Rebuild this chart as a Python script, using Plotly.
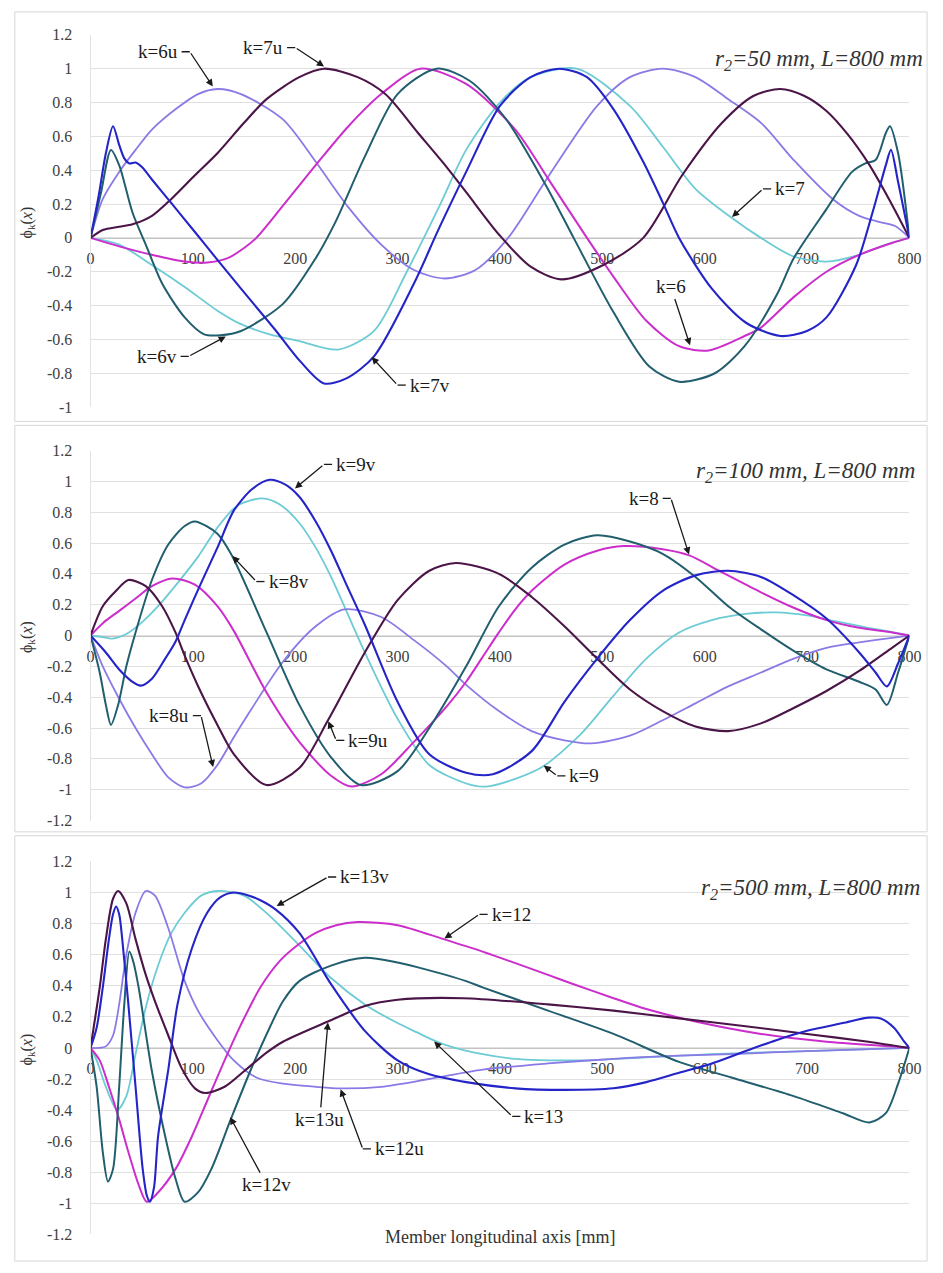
import plotly.graph_objects as go

# ---------------------------------------------------------------
# Mode shapes phi_k(x) along an 800 mm member, three radii r2
# ---------------------------------------------------------------

X_TICKS = [0, 100, 200, 300, 400, 500, 600, 700, 800]
Y1_TICKS = [-1.0, -0.8, -0.6, -0.4, -0.2, 0.0, 0.2, 0.4, 0.6, 0.8, 1.0, 1.2]
Y23_TICKS = [-1.2, -1.0, -0.8, -0.6, -0.4, -0.2, 0.0, 0.2, 0.4, 0.6, 0.8, 1.0, 1.2]

# ---- panel 1 : r2 = 50 mm --------------------------------------
P1_X6U = [0, 12, 28, 44, 60, 83, 105, 124, 147, 188, 220, 252, 284, 316, 346, 376, 408, 447, 495, 527, 559, 591, 623, 655, 687, 725, 751, 770, 786, 800]
P1_Y6U = [0, 0.23, 0.39, 0.52, 0.64, 0.76, 0.85, 0.88, 0.85, 0.70, 0.45, 0.18, -0.04, -0.19, -0.24, -0.19, 0.0, 0.36, 0.78, 0.95, 1.0, 0.95, 0.82, 0.68, 0.46, 0.23, 0.13, 0.095, 0.07, 0]

P1_X7U = [0, 12, 28, 41, 60, 79, 102, 124, 150, 172, 204, 228, 261, 288, 320, 345, 367, 399, 430, 460, 501, 540, 578, 617, 648, 674, 697, 719, 740, 760, 780, 800]
P1_Y7U = [0, 0.047, 0.066, 0.08, 0.13, 0.23, 0.37, 0.50, 0.68, 0.82, 0.95, 1.0, 0.95, 0.85, 0.62, 0.44, 0.27, 0.02, -0.17, -0.245, -0.16, 0.0, 0.37, 0.68, 0.84, 0.88, 0.84, 0.75, 0.61, 0.44, 0.23, 0]

P1_X7V = [0, 8, 15, 22, 28, 33, 38, 44, 50, 60, 79, 102, 124, 147, 180, 205, 228, 250, 277, 316, 340, 367, 400, 430, 458, 485, 511, 540, 559, 575, 607, 640, 674, 700, 719, 748, 764, 777, 782, 789, 800]
P1_Y7V = [0, 0.25, 0.50, 0.66, 0.55, 0.47, 0.44, 0.445, 0.42, 0.345, 0.205, 0.035, -0.13, -0.30, -0.54, -0.73, -0.86, -0.83, -0.70, -0.27, 0.05, 0.39, 0.78, 0.95, 1.0, 0.95, 0.76, 0.45, 0.21, 0.0, -0.30, -0.50, -0.58, -0.55, -0.47, -0.16, 0.15, 0.43, 0.52, 0.33, 0]

P1_X6V = [0, 10, 20, 28, 41, 54, 70, 92, 111, 127, 147, 188, 220, 239, 268, 300, 338, 370, 405, 444, 472, 511, 546, 575, 610, 639, 671, 687, 719, 744, 757, 767, 777, 781, 789, 800]
P1_Y6V = [0, 0.26, 0.52, 0.43, 0.15, -0.04, -0.27, -0.47, -0.57, -0.575, -0.55, -0.39, -0.12, 0.09, 0.48, 0.85, 1.0, 0.93, 0.71, 0.32, 0.0, -0.44, -0.76, -0.85, -0.80, -0.64, -0.33, -0.12, 0.17, 0.39, 0.44, 0.46, 0.62, 0.66, 0.50, 0]

P1_X6 = [0, 28, 60, 92, 114, 134, 150, 162, 188, 220, 252, 284, 322, 367, 415, 447, 485, 511, 543, 575, 604, 639, 655, 687, 719, 751, 783, 800]
P1_Y6 = [0, -0.05, -0.10, -0.14, -0.146, -0.12, -0.06, 0.0, 0.19, 0.43, 0.66, 0.85, 1.0, 0.91, 0.64, 0.35, 0.0, -0.23, -0.49, -0.64, -0.665, -0.58, -0.53, -0.35, -0.20, -0.10, -0.03, 0]

P1_X7 = [0, 28, 60, 92, 124, 147, 175, 204, 242, 277, 309, 341, 367, 400, 430, 475, 527, 559, 591, 626, 655, 687, 719, 751, 777, 800]
P1_Y7 = [0, -0.04, -0.16, -0.29, -0.43, -0.51, -0.57, -0.61, -0.66, -0.55, -0.20, 0.19, 0.52, 0.80, 0.95, 1.0, 0.78, 0.54, 0.29, 0.12, 0.0, -0.11, -0.14, -0.10, -0.04, 0]

# ---- panel 2 : r2 = 100 mm -------------------------------------
P2_X9V = [0, 15, 28, 41, 49, 60, 73, 83, 92, 108, 124, 140, 158, 175, 190, 204, 220, 235, 250, 268, 300, 331, 367, 393, 431, 463, 495, 527, 559, 591, 623, 655, 687, 719, 751, 767, 778, 789, 800]
P2_Y9V = [0, -0.11, -0.22, -0.30, -0.325, -0.28, -0.15, -0.04, 0.10, 0.34, 0.57, 0.81, 0.95, 1.01, 0.98, 0.90, 0.74, 0.55, 0.33, 0.07, -0.43, -0.77, -0.89, -0.90, -0.75, -0.43, -0.15, 0.10, 0.29, 0.39, 0.42, 0.38, 0.26, 0.11, -0.11, -0.24, -0.33, -0.18, 0]

P2_X8V = [0, 9, 15, 20, 27, 35, 44, 60, 76, 92, 102, 124, 138, 172, 204, 235, 264, 300, 331, 367, 399, 431, 463, 495, 527, 559, 591, 623, 655, 687, 719, 751, 767, 778, 789, 800]
P2_Y8V = [0, -0.24, -0.45, -0.58, -0.45, -0.20, 0.02, 0.36, 0.59, 0.71, 0.74, 0.66, 0.52, 0.02, -0.45, -0.79, -0.97, -0.88, -0.60, -0.20, 0.19, 0.44, 0.59, 0.65, 0.61, 0.53, 0.38, 0.19, 0.04, -0.10, -0.22, -0.30, -0.35, -0.45, -0.24, 0]

P2_X9 = [0, 12, 21, 35, 51, 66, 85, 105, 124, 143, 168, 185, 204, 220, 235, 268, 300, 331, 367, 386, 415, 442, 479, 511, 543, 575, 607, 640, 670, 700, 730, 760, 785, 800]
P2_Y9 = [0, -0.01, -0.02, 0.01, 0.09, 0.19, 0.34, 0.51, 0.70, 0.84, 0.89, 0.85, 0.73, 0.57, 0.38, -0.11, -0.54, -0.84, -0.96, -0.98, -0.93, -0.85, -0.64, -0.39, -0.15, 0.02, 0.10, 0.14, 0.15, 0.13, 0.09, 0.05, 0.02, 0]

P2_X8 = [0, 12, 28, 44, 60, 80, 102, 124, 140, 172, 204, 235, 255, 284, 316, 348, 367, 383, 399, 415, 431, 463, 495, 521, 559, 585, 614, 655, 687, 719, 751, 783, 800]
P2_Y8 = [0, 0.08, 0.16, 0.24, 0.32, 0.37, 0.33, 0.19, 0.03, -0.37, -0.69, -0.91, -0.98, -0.90, -0.69, -0.46, -0.30, -0.14, 0.02, 0.17, 0.29, 0.46, 0.55, 0.58, 0.56, 0.52, 0.42, 0.28, 0.18, 0.10, 0.05, 0.02, 0]

P2_X9U = [0, 12, 25, 37, 54, 70, 83, 92, 108, 124, 140, 172, 204, 232, 268, 300, 331, 357, 399, 431, 463, 495, 527, 559, 591, 623, 655, 687, 719, 751, 783, 800]
P2_Y9U = [0, 0.19, 0.29, 0.36, 0.32, 0.19, 0.02, -0.13, -0.37, -0.58, -0.77, -0.97, -0.86, -0.55, -0.11, 0.23, 0.42, 0.47, 0.40, 0.25, 0.06, -0.15, -0.35, -0.49, -0.59, -0.62, -0.57, -0.47, -0.36, -0.23, -0.08, 0]

P2_X8U = [0, 12, 28, 44, 60, 76, 92, 108, 124, 140, 156, 188, 220, 248, 284, 316, 348, 367, 399, 431, 463, 489, 527, 559, 591, 623, 655, 687, 719, 751, 783, 800]
P2_Y8U = [0, -0.20, -0.41, -0.60, -0.77, -0.92, -0.985, -0.96, -0.84, -0.66, -0.49, -0.17, 0.06, 0.17, 0.12, -0.03, -0.20, -0.32, -0.49, -0.62, -0.68, -0.70, -0.65, -0.55, -0.44, -0.33, -0.24, -0.15, -0.08, -0.045, -0.015, 0]

# ---- panel 3 : r2 = 500 mm -------------------------------------
P3_X13V = [0, 6, 12, 18, 22, 25, 28, 31, 37, 44, 51, 55, 58, 62, 66, 76, 85, 99, 114, 127, 140, 155, 166, 181, 204, 235, 268, 300, 331, 367, 415, 463, 511, 543, 575, 607, 640, 670, 700, 735, 760, 772, 785, 795, 800]
P3_Y13V = [0, 0.13, 0.39, 0.70, 0.86, 0.91, 0.86, 0.70, 0.28, -0.25, -0.78, -0.95, -0.99, -0.90, -0.57, -0.14, 0.28, 0.64, 0.87, 0.97, 1.0, 0.98, 0.95, 0.89, 0.74, 0.41, 0.11, -0.08, -0.17, -0.22, -0.26, -0.27, -0.26, -0.22, -0.16, -0.10, -0.02, 0.05, 0.11, 0.16, 0.195, 0.19, 0.13, 0.04, 0]

P3_X12 = [0, 9, 18, 28, 37, 47, 55, 66, 83, 99, 114, 131, 147, 166, 185, 204, 220, 240, 261, 300, 345, 383, 447, 472, 511, 543, 591, 655, 719, 783, 800]
P3_Y12 = [0, -0.08, -0.25, -0.46, -0.67, -0.88, -0.99, -0.93, -0.78, -0.57, -0.34, -0.08, 0.15, 0.39, 0.56, 0.67, 0.74, 0.79, 0.81, 0.79, 0.70, 0.62, 0.47, 0.41, 0.32, 0.25, 0.17, 0.09, 0.04, 0.01, 0]

P3_X13U = [0, 9, 15, 22, 27, 35, 44, 54, 63, 76, 89, 102, 112, 131, 150, 172, 188, 232, 268, 300, 364, 447, 511, 575, 640, 700, 760, 800]
P3_Y13U = [0, 0.39, 0.70, 0.96, 1.01, 0.93, 0.70, 0.47, 0.30, 0.08, -0.13, -0.26, -0.29, -0.25, -0.15, -0.03, 0.04, 0.17, 0.27, 0.31, 0.32, 0.28, 0.24, 0.19, 0.14, 0.09, 0.04, 0]

P3_X12V = [0, 6, 12, 17, 22, 28, 33, 38, 42, 47, 60, 73, 83, 92, 105, 118, 137, 156, 175, 188, 204, 235, 268, 300, 319, 367, 383, 447, 511, 575, 626, 687, 735, 761, 777, 789, 800]
P3_Y12V = [0, -0.25, -0.67, -0.86, -0.78, -0.25, 0.28, 0.62, 0.55, 0.39, -0.15, -0.57, -0.84, -0.99, -0.93, -0.78, -0.46, -0.15, 0.13, 0.30, 0.43, 0.53, 0.58, 0.55, 0.52, 0.43, 0.39, 0.24, 0.09, -0.09, -0.19, -0.31, -0.42, -0.48, -0.42, -0.23, 0]

P3_X13 = [0, 6, 15, 26, 35, 44, 54, 66, 79, 92, 108, 124, 150, 175, 204, 235, 268, 300, 319, 335, 351, 383, 415, 479, 543, 607, 700, 800]
P3_Y13 = [0, -0.08, -0.25, -0.40, -0.31, -0.04, 0.26, 0.53, 0.74, 0.87, 0.98, 1.01, 0.98, 0.85, 0.66, 0.45, 0.28, 0.16, 0.10, 0.05, 0.01, -0.04, -0.07, -0.08, -0.06, -0.04, -0.02, 0]

P3_X12U = [0, 8, 15, 22, 28, 35, 44, 54, 63, 76, 92, 105, 124, 140, 162, 188, 220, 244, 284, 331, 383, 447, 511, 575, 626, 700, 800]
P3_Y12U = [0, 0.0, 0.01, 0.08, 0.28, 0.60, 0.87, 1.01, 0.98, 0.77, 0.43, 0.24, 0.05, -0.08, -0.19, -0.23, -0.25, -0.26, -0.25, -0.20, -0.14, -0.10, -0.07, -0.05, -0.04, -0.02, 0]

# ---- styling ---------------------------------------------------
W, H = 943, 1273
SERIF = "Liberation Serif"
INK = "#1a1a1a"
C_CYAN = "#6ccbd4"
C_VIOLET = "#8a7ae6"
C_MAGENTA = "#cc2ecc"
C_TEAL = "#215e6e"
C_PLUM = "#4b1548"
C_BLUE = "#2424c8"
DASH = 8      # length of the short leader stub next to a label, in mm of x
GAP = 2       # gap between stub and label text, in mm of x


def px(x):
    return x / W


def py(y):
    return 1 - y / H


# Leader spec: (text, side, kx, ky, hx, hy)
#   side "L": label sits left of the stub, "R": right of the stub,
#   side "S": straight arrow from the label centred at (kx, ky).
PANELS = [
    dict(
        curves=[
            (P1_X7, P1_Y7, C_CYAN, 1.8),
            (P1_X6U, P1_Y6U, C_VIOLET, 1.8),
            (P1_X6, P1_Y6, C_MAGENTA, 2.0),
            (P1_X6V, P1_Y6V, C_TEAL, 2.0),
            (P1_X7U, P1_Y7U, C_PLUM, 2.1),
            (P1_X7V, P1_Y7V, C_BLUE, 2.1),
        ],
        names=["k=7", "k=6u", "k=6", "k=6v", "k=7u", "k=7v"],
        yrange=[-1, 1.2], yticks=Y1_TICKS,
        top=27.2, bottom=404.5, zero=233,
        title="<i>r<sub>2</sub>=50 mm, L=800 mm</i>", title_xy=(937, 53),
        labels=[
            ("k=6u", "L", 97, 1.10, 120, 0.89),
            ("k=7u", "L", 200, 1.125, 229, 1.01),
            ("k=6v", "L", 96, -0.70, 133, -0.58),
            ("k=7v", "R", 300, -0.87, 274, -0.70),
            ("k=7", "R", 657, 0.29, 626, 0.12),
            ("k=6", "S", 567, -0.29, 586, -0.64),
        ],
        frame=(11, 4, 939, 419),
    ),
    dict(
        curves=[
            (P2_X9, P2_Y9, C_CYAN, 1.8),
            (P2_X8U, P2_Y8U, C_VIOLET, 1.8),
            (P2_X8, P2_Y8, C_MAGENTA, 2.0),
            (P2_X8V, P2_Y8V, C_TEAL, 2.0),
            (P2_X9U, P2_Y9U, C_PLUM, 2.1),
            (P2_X9V, P2_Y9V, C_BLUE, 2.1),
        ],
        names=["k=9", "k=8u", "k=8", "k=8v", "k=9u", "k=9v"],
        yrange=[-1.2, 1.2], yticks=Y23_TICKS,
        top=448.5, bottom=823.5, zero=636,
        title="<i>r<sub>2</sub>=100 mm, L=800 mm</i>", title_xy=(929, 470),
        labels=[
            ("k=9v", "R", 228, 1.11, 199, 0.95),
            ("k=8v", "R", 162, 0.35, 138, 0.52),
            ("k=8u", "L", 108, -0.52, 120, -0.86),
            ("k=9u", "R", 240, -0.68, 232, -0.55),
            ("k=8", "L", 567, 0.89, 585, 0.52),
            ("k=9", "R", 456, -0.91, 442, -0.84),
        ],
        frame=(11, 423, 939, 835),
    ),
    dict(
        curves=[
            (P3_X13, P3_Y13, C_CYAN, 1.8),
            (P3_X12U, P3_Y12U, C_VIOLET, 1.8),
            (P3_X12, P3_Y12, C_MAGENTA, 2.0),
            (P3_X12V, P3_Y12V, C_TEAL, 2.0),
            (P3_X13U, P3_Y13U, C_PLUM, 2.1),
            (P3_X13V, P3_Y13V, C_BLUE, 2.1),
        ],
        names=["k=13", "k=12u", "k=12", "k=12v", "k=13u", "k=13v"],
        yrange=[-1.2, 1.2], yticks=Y23_TICKS,
        top=865, bottom=1243, zero=1054,
        title="<i>r<sub>2</sub>=500 mm, L=800 mm</i>", title_xy=(934, 893),
        labels=[
            ("k=13v", "R", 232, 1.10, 181, 0.91),
            ("k=12", "R", 380, 0.86, 345, 0.70),
            ("k=13", "R", 412, -0.44, 335, 0.045),
            ("k=12v", "S", 172, -0.88, 136, -0.44),
            ("k=13u", "S", 224, -0.46, 232, 0.17),
            ("k=12u", "R", 266, -0.65, 244, -0.26),
        ],
        frame=(11, 839, 939, 1270),
    ),
]

PLOT_LEFT, PLOT_RIGHT = 88, 921
LABEL_FONT = dict(family=SERIF, size=19, color=INK)

fig = go.Figure()
annotations = []
shapes = []
layout_axes = {}

for i, p in enumerate(PANELS, start=1):
    xa = "x" if i == 1 else f"x{i}"
    ya = "y" if i == 1 else f"y{i}"
    for (xs, ys, col, w), nm in zip(p["curves"], p["names"]):
        fig.add_trace(go.Scatter(
            x=xs, y=ys, mode="lines", name=nm, showlegend=False,
            line=dict(color=col, width=w, shape="spline", smoothing=0.8),
            xaxis=xa, yaxis=ya, hoverinfo="skip",
        ))

    xkey = "xaxis" if i == 1 else f"xaxis{i}"
    ykey = "yaxis" if i == 1 else f"yaxis{i}"
    layout_axes[xkey] = dict(
        domain=[px(PLOT_LEFT), px(PLOT_RIGHT)], range=[0, 800],
        anchor="free", position=py(p["zero"]),
        showgrid=False, zeroline=False,
        showline=True, linecolor="#c4c4c4", linewidth=1,
        tickvals=X_TICKS, ticktext=[str(t) for t in X_TICKS],
        ticks="", ticklabelstandoff=6, layer="below traces",
        tickfont=dict(family=SERIF, size=16, color="#404040"),
        title=dict(text=""), fixedrange=True,
    )
    layout_axes[ykey] = dict(
        domain=[py(p["bottom"]), py(p["top"])], range=p["yrange"],
        anchor=xa, showgrid=True, gridcolor="#e0e0e0", gridwidth=1,
        zeroline=False, showline=True, linecolor="#e3e3e3", linewidth=1,
        tickvals=p["yticks"], ticktext=[f"{v:g}" for v in p["yticks"]],
        ticks="", ticklabelstandoff=14,
        tickfont=dict(family=SERIF, size=16, color="#404040"),
        title=dict(text=""), fixedrange=True,
    )

    # chart-area frame
    fx0, fy0, fx1, fy1 = p["frame"]
    shapes.append(dict(type="rect", xref="paper", yref="paper",
                       x0=px(fx0), x1=px(fx1), y0=py(fy1), y1=py(fy0),
                       line=dict(color="#d6d6d6", width=1), layer="below"))

    # panel caption
    tx, ty = p["title_xy"]
    annotations.append(dict(text=p["title"], xref="paper", yref="paper",
                            x=px(tx), y=py(ty), xanchor="right", yanchor="middle",
                            showarrow=False,
                            font=dict(family=SERIF, size=23, color="#333333")))

    # vertical axis title
    annotations.append(dict(text="\u03d5<sub>k</sub>(<i>x</i>)", xref="paper", yref="paper",
                            x=px(24), y=py((p["top"] + p["bottom"]) / 2 + 2),
                            xanchor="center", yanchor="middle",
                            textangle=-90, showarrow=False,
                            font=dict(family=SERIF, size=16, color="#333333")))

    # mode labels with leader arrows
    for text, side, kx, ky, hx, hy in p["labels"]:
        if side == "S":
            annotations.append(dict(
                text=text, x=hx, y=hy, ax=kx, ay=ky,
                xref=xa, yref=ya, axref=xa, ayref=ya,
                showarrow=True, arrowhead=2, arrowsize=1.1, arrowwidth=1.3,
                arrowcolor=INK, standoff=1, font=LABEL_FONT,
            ))
            continue
        sgn = -1 if side == "L" else 1
        # arrow from the bend to the curve
        annotations.append(dict(
            text="", x=hx, y=hy, ax=kx, ay=ky,
            xref=xa, yref=ya, axref=xa, ayref=ya,
            showarrow=True, arrowhead=2, arrowsize=1.1, arrowwidth=1.3,
            arrowcolor=INK, standoff=1,
        ))
        # short horizontal stub from the bend towards the label
        shapes.append(dict(type="line", xref=xa, yref=ya,
                           x0=kx, y0=ky, x1=kx + sgn * DASH, y1=ky,
                           line=dict(color=INK, width=1.3)))
        annotations.append(dict(
            text=text, x=kx + sgn * (DASH + GAP), y=ky,
            xref=xa, yref=ya, showarrow=False,
            xanchor="right" if side == "L" else "left", yanchor="middle",
            font=LABEL_FONT,
        ))

annotations.append(dict(text="Member longitudinal axis [mm]", xref="paper", yref="paper",
                        x=px(505), y=py(1258), showarrow=False,
                        font=dict(family=SERIF, size=18, color="#333333")))

fig.update_layout(
    width=W, height=H,
    margin=dict(l=0, r=0, t=0, b=0),
    paper_bgcolor="white", plot_bgcolor="white",
    annotations=annotations, shapes=shapes,
    **layout_axes,
)

fig.write_html("out.html", post_script="document.body.style.margin='0px';")
